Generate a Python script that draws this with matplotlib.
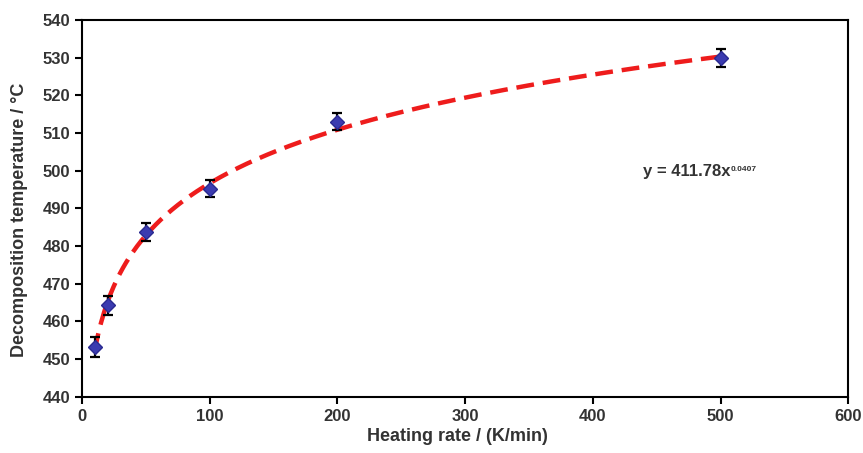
import numpy as np
import matplotlib
matplotlib.use("Agg")
import matplotlib.pyplot as plt

plt.rcParams['font.family'] = ['Liberation Sans', 'DejaVu Sans']

# measured points
heating_rate = [10, 20, 50, 100, 200, 500]
decomp_temp = [453.3, 464.3, 483.7, 495.2, 513.0, 530.0]
temp_err = [2.7, 2.5, 2.3, 2.3, 2.3, 2.4]

# power-law trendline shown on the chart
fit_a = 411.78
fit_b = 0.0407

fig = plt.figure(figsize=(8.63, 4.53), dpi=100)
ax = fig.add_axes([0.095, 0.124, 0.888, 0.832])

xf = np.linspace(heating_rate[0], heating_rate[-1], 400)
ax.plot(xf, fit_a * xf ** fit_b, color='#ee1c1c', linewidth=3.2,
        dashes=(4, 2), zorder=2)

ax.errorbar(heating_rate, decomp_temp, yerr=temp_err, fmt='none',
            ecolor='black', elinewidth=1.6, capsize=3.5, capthick=1.6, zorder=3)
ax.plot(heating_rate, decomp_temp, linestyle='none', marker='D',
        markersize=7, color='#3b3bb0', markeredgecolor='#2a2a90', zorder=4)

ax.set_xlim(0, 600)
ax.set_ylim(440, 540)
ax.set_xticks(range(0, 601, 100))
ax.set_yticks(range(440, 541, 10))

for s in ax.spines.values():
    s.set_linewidth(1.5)
    s.set_color('black')
ax.tick_params(direction='out', length=5, width=1.5, labelsize=12,
               labelcolor='#333333')
for lab in ax.get_xticklabels() + ax.get_yticklabels():
    lab.set_fontweight('bold')

ax.set_xlabel("Heating rate / (K/min)", fontsize=13, fontweight='bold',
              color='#333333')
ax.set_ylabel("Decomposition temperature / \u00b0C", fontsize=13,
              fontweight='bold', color='#333333')
ax.xaxis.set_label_coords(0.49, -0.083)
ax.yaxis.set_label_coords(-0.07, 0.47)

eq = ax.text(439, 499.7, "y = 411.78x", fontsize=12, fontweight='bold',
             color='#333333', va='center')
ax.annotate("0.0407", xy=(1, 1), xycoords=eq, xytext=(0.5, -1),
            textcoords='offset points', fontsize=6, fontweight='bold',
            color='#333333', va='top')

fig.savefig("out.png", dpi=100)
